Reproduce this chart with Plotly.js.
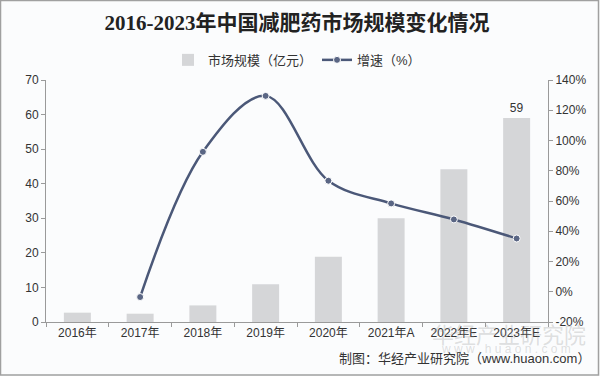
<!DOCTYPE html>
<html>
<head>
<meta charset="utf-8">
<script src="https://cdn.plot.ly/plotly-3.0.1.min.js"></script>
<style>html,body{margin:0;padding:0;background:#fff;}#chart{width:600px;height:376px;}</style>
</head>
<body>
<div id="chart"></div>
<script>
const categories = ['2016年','2017年','2018年','2019年','2020年','2021年A','2022年E','2023年E'];
const marketSize = [2.7, 2.4, 4.8, 10.9, 18.9, 30.0, 44.2, 59.0];
const growthRate = [null, -3.5, 92.5, 129.5, 73.4, 58.4, 47.8, 35.2];
const barLabels = ['', '', '', '', '', '', '', '59'];
const leftTicks = [0,10,20,30,40,50,60,70];
const rightTicks = [-20,0,20,40,60,80,100,120,140];
const rightTickText = ['-20%','0%','20%','40%','60%','80%','100%','120%','140%'];

const font = 'Liberation Sans, Arial, Noto Sans CJK SC, sans-serif';
const axisColor = '#9a9a9a';

const traces = [
  {
    type: 'bar', name: '市场规模（亿元）', x: categories, y: marketSize,
    marker: {color: '#d5d6d8'}, width: 0.43,
    text: barLabels, textposition: 'outside', cliponaxis: false,
    textfont: {size: 12, color: '#333', family: font},
    hoverinfo: 'x+y'
  },
  {
    type: 'scatter', mode: 'lines+markers', name: '增速（%）', x: categories, y: growthRate,
    yaxis: 'y2', connectgaps: false,
    line: {color: '#4b5878', width: 2.5, shape: 'spline', smoothing: 1},
    marker: {color: '#5a6684', size: 7, line: {color: '#ffffff', width: 1}}
  }
];

const layout = {
  width: 600, height: 376,
  margin: {l: 46, r: 52, t: 80, b: 54.3, pad: 0},
  paper_bgcolor: '#fbfcfd', plot_bgcolor: '#fbfcfd',
  font: {family: font, size: 12, color: '#333'},
  title: {text: '2016-2023年中国减肥药市场规模变化情况', x: 0.5, xref: 'paper', y: 0.94, yanchor: 'middle',
          font: {family: 'Liberation Serif, Noto Sans CJK SC, serif', size: 21, color: '#222', weight: 'bold'}},
  showlegend: true,
  legend: {orientation: 'h', x: 0.5, xanchor: 'center', y: 1.083, yanchor: 'middle',
           font: {size: 13, color: '#333', family: font}, bgcolor: 'rgba(0,0,0,0)', traceorder: 'normal', itemwidth: 30},
  bargap: 0.57,
  xaxis: {
    type: 'category', showline: true, linecolor: axisColor, linewidth: 1,
    ticks: 'outside', tickson: 'boundaries', ticklen: 4, tickcolor: axisColor,
    showgrid: false, zeroline: false, tickfont: {size: 12, color: '#333'}, fixedrange: true
  },
  yaxis: {
    range: [0, 70], tickvals: leftTicks, showline: true, linecolor: axisColor, linewidth: 1,
    ticks: 'outside', ticklen: 4, tickcolor: axisColor, showgrid: false, zeroline: false,
    tickfont: {size: 12, color: '#333'}
  },
  yaxis2: {
    range: [-20, 140], tickmode: 'array', tickvals: rightTicks, ticktext: rightTickText, overlaying: 'y', side: 'right',
    showline: true, linecolor: axisColor, linewidth: 1, ticks: 'outside', ticklen: 4, tickcolor: axisColor,
    showgrid: false, zeroline: false, tickfont: {size: 12, color: '#333'}
  },
  shapes: [
    {type: 'rect', xref: 'paper', yref: 'paper', x0: -0.0906, x1: 1.1006, y0: -0.2185, y1: 1.3289,
     line: {color: '#a0a0a0', width: 1.5}, fillcolor: 'rgba(0,0,0,0)', layer: 'above'}
  ],
  annotations: [
    {text: '华经产业研究院', xref: 'paper', yref: 'paper', x: 1.08, xanchor: 'right', y: -0.045, yanchor: 'middle',
     showarrow: false, font: {size: 22, color: 'rgba(150,150,150,0.3)', family: 'Noto Sans CJK SC'}},
    {text: 'w w w . h u a o n . c o m', xref: 'paper', yref: 'paper', x: 1.05, xanchor: 'right', y: -0.11, yanchor: 'middle',
     showarrow: false, font: {size: 12, color: 'rgba(150,150,150,0.3)', family: font}},
    {text: '制图：华经产业研究院（www.huaon.com）', xref: 'paper', yref: 'paper', x: 1.088, xanchor: 'right', y: -0.15, yanchor: 'middle',
     showarrow: false, font: {size: 13, color: '#333', family: font}}
  ]
};

Plotly.newPlot('chart', traces, layout, {displayModeBar: false, staticPlot: true});
</script>
</body>
</html>
